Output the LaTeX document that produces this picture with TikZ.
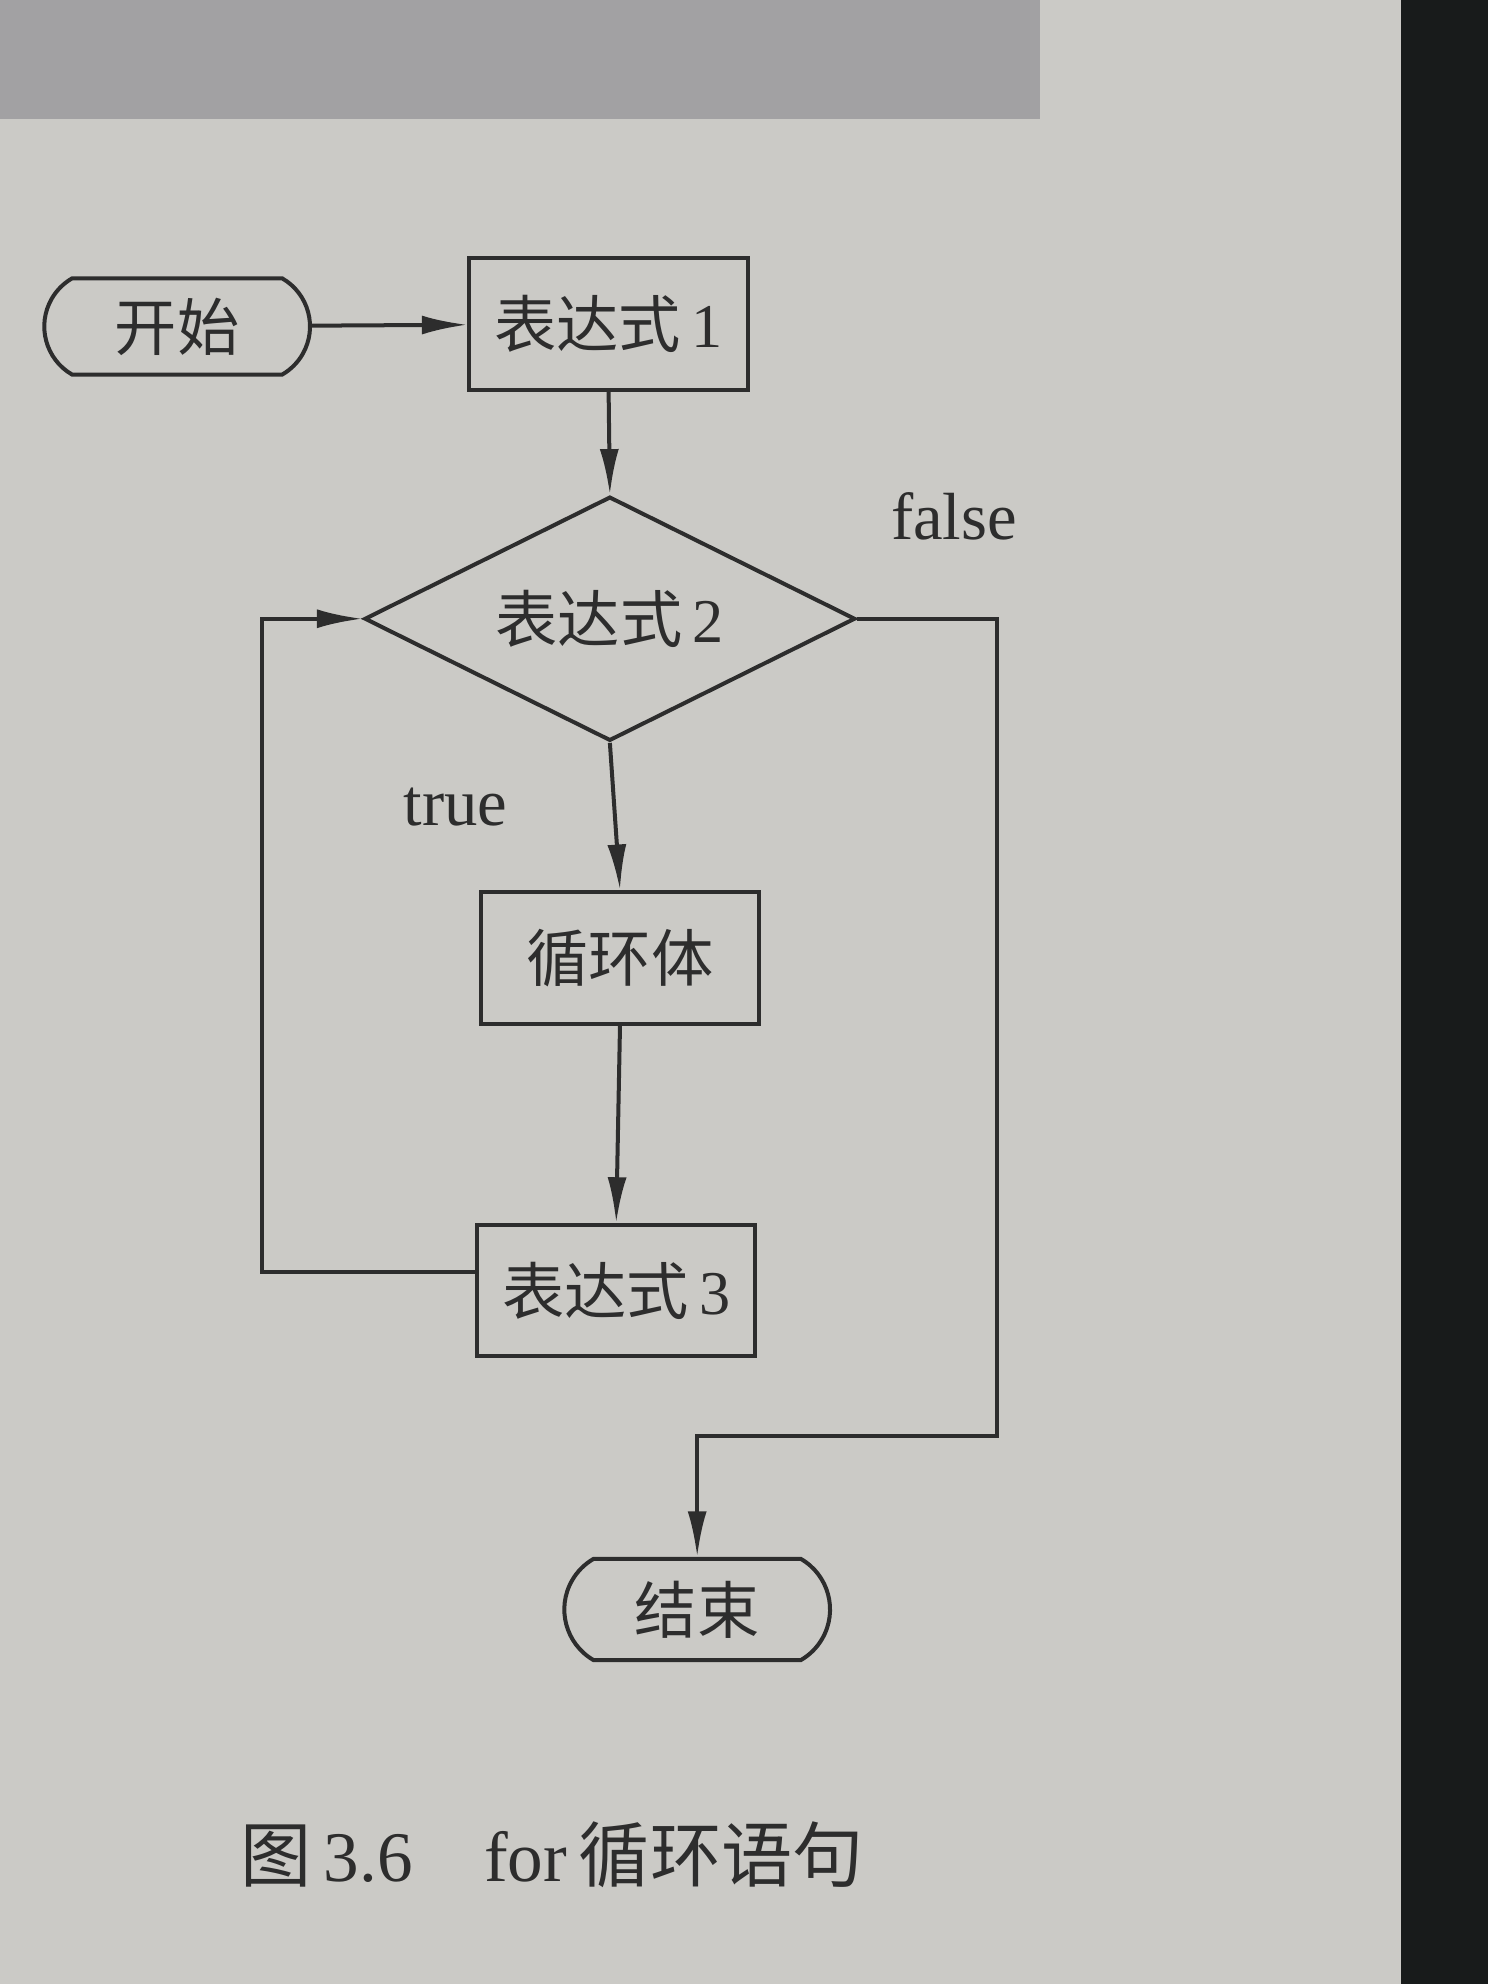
\documentclass[tikz,border=0pt]{standalone}
\usepackage{fontspec}
\setmainfont{Liberation Serif}
\newfontfamily\cjk{Noto Sans CJK SC}
\usetikzlibrary{shapes.geometric,shapes.misc,arrows.meta}
\definecolor{paper}{RGB}{203,202,198}
\definecolor{band}{RGB}{162,161,163}
\definecolor{edge}{RGB}{24,27,27}
\definecolor{ink}{RGB}{45,45,45}
\tikzset{every node/.style={text=ink, font=\fontsize{14}{16}\selectfont},
         box/.style={rectangle, draw=ink, line width=.9pt, minimum width=22mm,
                     minimum height=10.4mm, inner sep=0pt},
         terminal/.style={rounded rectangle, rounded rectangle arc length=120,
                     draw=ink, line width=.9pt, minimum width=21mm,
                     minimum height=7.6mm, inner sep=0pt},
         test/.style={diamond, aspect=2.2, draw=ink, line width=.9pt, minimum width=38.8mm,
                     minimum height=19.3mm, inner sep=0pt},
         flow/.style={draw=ink, line width=.9pt, -{Latex[length=3.6mm,width=1.5mm]}},
         wire/.style={draw=ink, line width=.9pt}}
\newcommand{\zh}[1]{{\cjk #1}}

\begin{document}
\begin{tikzpicture}[x=0.1mm, y=-0.1mm]
      % page of the photo
      \fill[paper] (0,0) rectangle (1176,1568);
      \fill[band] (0,0) rectangle (822,94);
      \fill[edge] (1107,0) rectangle (1176,1568);
      \useasboundingbox (0,0) rectangle (1176,1568);

      \node[terminal] (start) at (140,258) {\zh{开始}};
      \node[box] (expr1) at (481,256) {\zh{表达式}\,1};
      \node[test] (expr2) at (482,489) {\zh{表达式}\,2};
      \node[box] (body) at (490,757) {\zh{循环体}};
      \node[box] (expr3) at (487,1020) {\zh{表达式}\,3};
      \node[terminal, minimum height=8mm] (stop) at (551,1272) {\zh{结束}};

      \node[font=\fontsize{15}{17}\selectfont] (false) at (754,408) {false};
      \node[font=\fontsize{15}{17}\selectfont] (true) at (360,638) {true};

      \coordinate (loop) at (207,1005);
      \coordinate (exit) at (788,1135);

      \draw[flow] (start) -- (expr1);
      \draw[flow] (expr1.south) -- (expr2.north);
      \draw[flow] (expr2.south) -- (body.north);
      \draw[flow] (body.south) -- (expr3.north);
      \draw[flow] (expr3.west |- loop) -- (loop) |- (expr2.west);
      \draw[flow] (expr2.east) -| (exit) -| (stop.north);

      \node[anchor=west, font=\fontsize{16}{18}\selectfont] (caption) at (178,1466)
	{\zh{图}\,3.6\hspace{1em}for\,\zh{循环语句}};
    \end{tikzpicture}
\end{document}
